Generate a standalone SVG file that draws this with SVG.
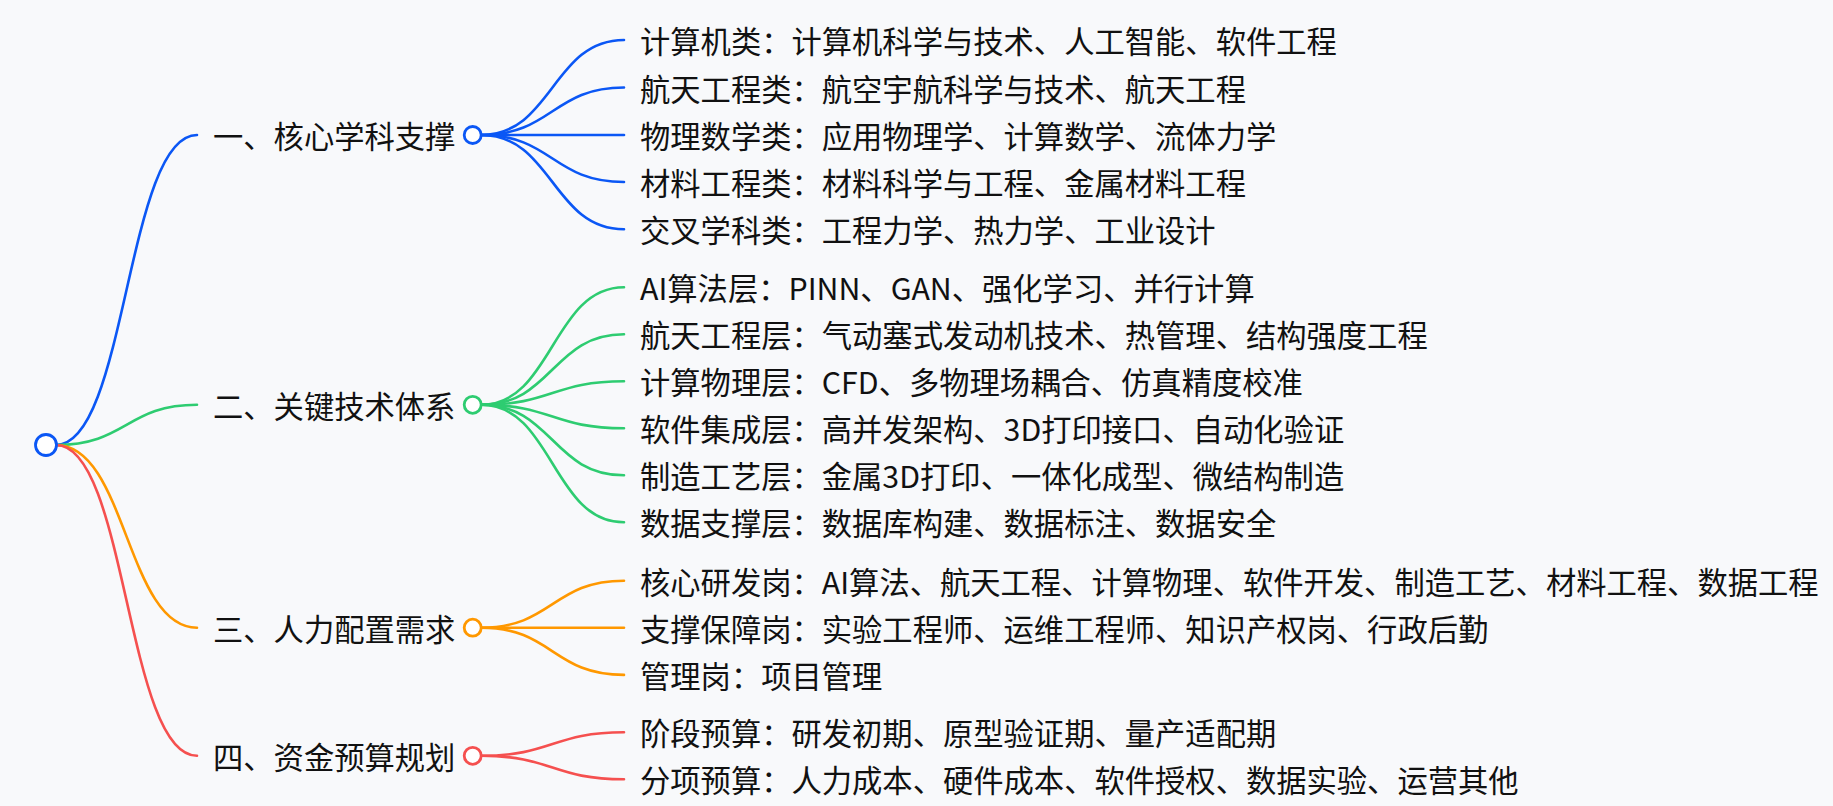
<svg xmlns="http://www.w3.org/2000/svg" width="1833" height="806" viewBox="0 0 1833 806">
<style>
text{font-family:"Noto Sans CJK SC","Noto Sans",sans-serif;font-size:30.3px;fill:#111}
.l{fill:none;stroke-width:2.6;stroke-linecap:round}
.c{fill:#fff;stroke-width:2.8}
.b{stroke:#0b57f5}.g{stroke:#2ecc71}.o{stroke:#ff9800}.r{stroke:#f5504f}
</style>
<rect width="1833" height="806" fill="#f8f9fb"/>
<g id="connectors">
<path class="l b" d="M56,445 C126.5,445 126.5,135 197,135"/>
<path class="l g" d="M56,445 C126.5,445 126.5,404.8 197,404.8"/>
<path class="l o" d="M56,445 C126.5,445 126.5,627.7 197,627.7"/>
<path class="l r" d="M56,445 C126.5,445 126.5,755.8 197,755.8"/>
<path class="l b" d="M481,135 C552.5,135 552.5,40 624,40"/>
<path class="l b" d="M481,135 C552.5,135 552.5,87.5 624,87.5"/>
<path class="l b" d="M481,135 L624,135"/>
<path class="l b" d="M481,135 C552.5,135 552.5,182 624,182"/>
<path class="l b" d="M481,135 C552.5,135 552.5,229.3 624,229.3"/>
<path class="l g" d="M481,404.8 C552.5,404.8 552.5,287.3 624,287.3"/>
<path class="l g" d="M481,404.8 C552.5,404.8 552.5,334.3 624,334.3"/>
<path class="l g" d="M481,404.8 C552.5,404.8 552.5,381.3 624,381.3"/>
<path class="l g" d="M481,404.8 C552.5,404.8 552.5,428.3 624,428.3"/>
<path class="l g" d="M481,404.8 C552.5,404.8 552.5,475.3 624,475.3"/>
<path class="l g" d="M481,404.8 C552.5,404.8 552.5,522.3 624,522.3"/>
<path class="l o" d="M481,627.7 C552.5,627.7 552.5,580.7 624,580.7"/>
<path class="l o" d="M481,627.7 L624,627.7"/>
<path class="l o" d="M481,627.7 C552.5,627.7 552.5,674.9 624,674.9"/>
<path class="l r" d="M481,755.8 C552.5,755.8 552.5,732.3 624,732.3"/>
<path class="l r" d="M481,755.8 C552.5,755.8 552.5,779.3 624,779.3"/>
</g>
<g id="root"><circle class="c b" cx="46" cy="445" r="10.5"/></g>
<g id="b1"><text x="213" y="148">一、核心学科支撑</text><circle class="c b" cx="472.7" cy="135" r="8.5"/></g>
<g id="b2"><text x="213" y="417.8">二、关键技术体系</text><circle class="c g" cx="472.7" cy="404.8" r="8.5"/></g>
<g id="b3"><text x="213" y="640.7">三、人力配置需求</text><circle class="c o" cx="472.7" cy="627.7" r="8.5"/></g>
<g id="b4"><text x="213" y="768.8">四、资金预算规划</text><circle class="c r" cx="472.7" cy="755.8" r="8.5"/></g>
<g id="n1-1"><text x="640" y="53">计算机类：计算机科学与技术、人工智能、软件工程</text></g>
<g id="n1-2"><text x="640" y="100.5">航天工程类：航空宇航科学与技术、航天工程</text></g>
<g id="n1-3"><text x="640" y="148">物理数学类：应用物理学、计算数学、流体力学</text></g>
<g id="n1-4"><text x="640" y="195">材料工程类：材料科学与工程、金属材料工程</text></g>
<g id="n1-5"><text x="640" y="242.3">交叉学科类：工程力学、热力学、工业设计</text></g>
<g id="n2-1"><text x="640" y="300.3">AI算法层：PINN、GAN、强化学习、并行计算</text></g>
<g id="n2-2"><text x="640" y="347.3">航天工程层：气动塞式发动机技术、热管理、结构强度工程</text></g>
<g id="n2-3"><text x="640" y="394.3">计算物理层：CFD、多物理场耦合、仿真精度校准</text></g>
<g id="n2-4"><text x="640" y="441.3">软件集成层：高并发架构、3D打印接口、自动化验证</text></g>
<g id="n2-5"><text x="640" y="488.3">制造工艺层：金属3D打印、一体化成型、微结构制造</text></g>
<g id="n2-6"><text x="640" y="535.3">数据支撑层：数据库构建、数据标注、数据安全</text></g>
<g id="n3-1"><text x="640" y="593.7">核心研发岗：AI算法、航天工程、计算物理、软件开发、制造工艺、材料工程、数据工程</text></g>
<g id="n3-2"><text x="640" y="640.7">支撑保障岗：实验工程师、运维工程师、知识产权岗、行政后勤</text></g>
<g id="n3-3"><text x="640" y="687.9">管理岗：项目管理</text></g>
<g id="n4-1"><text x="640" y="745.3">阶段预算：研发初期、原型验证期、量产适配期</text></g>
<g id="n4-2"><text x="640" y="792.3">分项预算：人力成本、硬件成本、软件授权、数据实验、运营其他</text></g>
</svg>
